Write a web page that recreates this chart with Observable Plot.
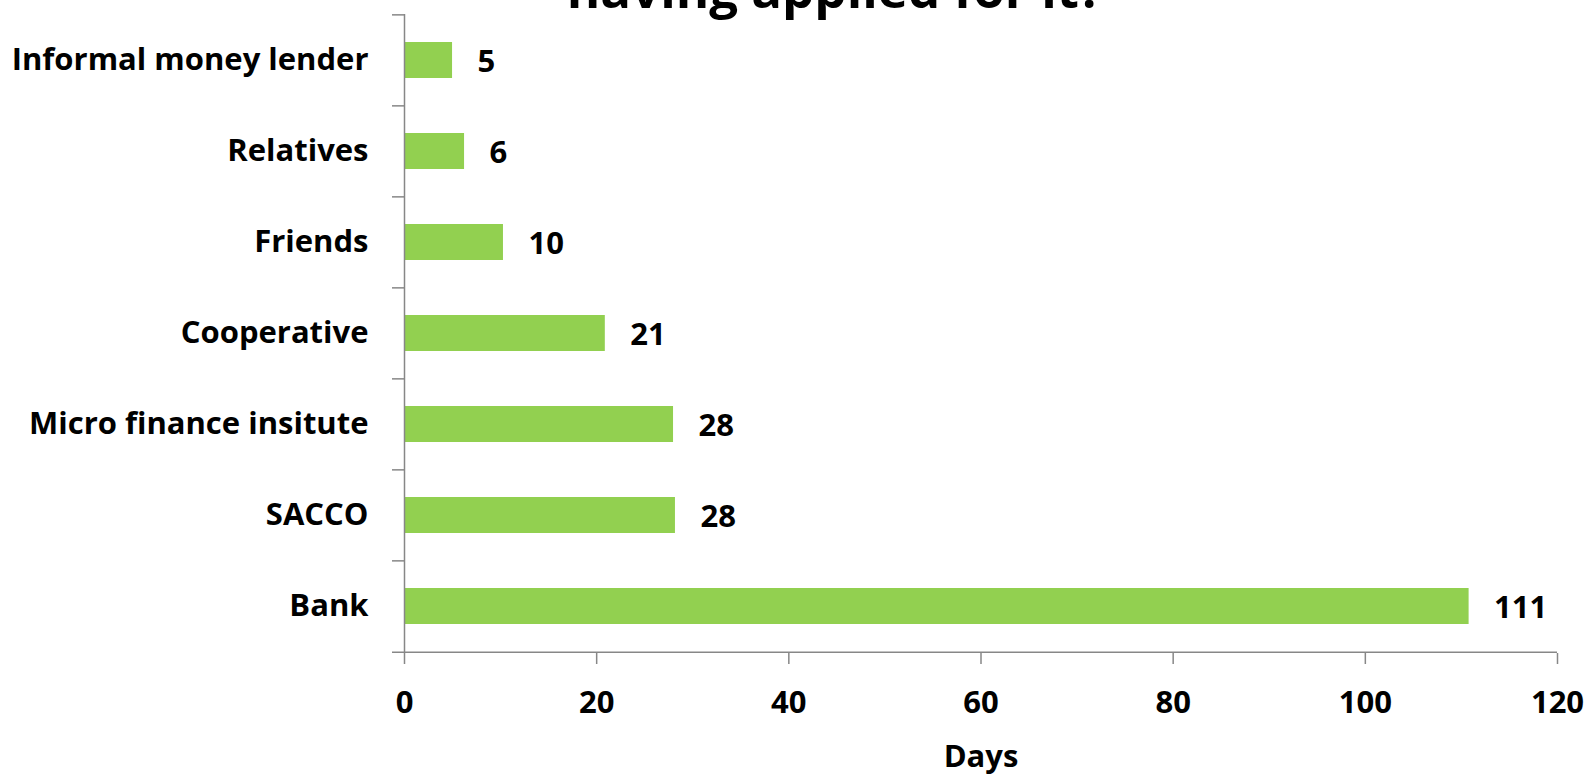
<!DOCTYPE html>
<html>
<head>
<meta charset="utf-8">
<script src="https://cdn.jsdelivr.net/npm/d3@7"></script>
<script src="https://cdn.jsdelivr.net/npm/@observablehq/plot@0.6"></script>
<style>
  html, body { margin: 0; padding: 0; background: #fff; overflow: hidden; }
  #wrap { position: relative; width: 1591px; height: 774px; }
  #title { position: absolute; top: -37px; left: 835px; transform: translateX(-50%);
    font-family: "Open Sans", sans-serif; font-weight: bold; font-size: 51px; line-height: 51px;
    white-space: nowrap; color: #000; }
  #chart { position: absolute; top: 0; left: 0; }
</style>
</head>
<body>
<div id="wrap">
  <div id="chart"></div>
  <div id="title">having applied for it?</div>
</div>
<script>
const categories = ["Informal money lender", "Relatives", "Friends", "Cooperative", "Micro finance insitute", "SACCO", "Bank"];
const days = [5.0, 6.25, 10.3, 20.9, 28.0, 28.2, 110.8];
const valueLabels = ["5", "6", "10", "21", "28", "28", "111"];
const xTicks = [0, 20, 40, 60, 80, 100, 120];

const data = categories.map((c, i) => ({category: c, days: days[i], label: valueLabels[i]}));

const W = 1591, H = 774, mT = 14, mB = 121, mL = 404, mR = 34;
const step = (H - mT - mB) / categories.length;
const gray = "#878787";

const chart = Plot.plot({
  width: W,
  height: H,
  marginTop: mT,
  marginBottom: mB,
  marginLeft: mL,
  marginRight: mR,
  style: {fontFamily: "Open Sans", fontSize: "31px", fontWeight: "bold", color: "#000", background: "#fff"},
  x: {domain: [0, 120]},
  y: {domain: categories, paddingInner: 0.6, paddingOuter: 0.3},
  marks: [
    Plot.barX(data, {x: "days", y: "category", fill: "#92D050"}),
    Plot.text(data, {x: "days", y: "category", text: "label", textAnchor: "start", dx: 25, dy: 2, fill: "#000"}),
    Plot.axisY({tickSize: 0, tickPadding: 36, label: null}),
    Plot.axisY({tickSize: 12, text: null, dy: -step / 2, stroke: gray, strokeWidth: 1.5, label: null}),
    Plot.axisX({ticks: xTicks, tickSize: 11, tickPadding: 26, stroke: gray, strokeWidth: 1.5,
      label: "Days", labelAnchor: "center", labelArrow: false, labelOffset: 113}),
    Plot.ruleX([0], {stroke: gray, strokeWidth: 1.5}),
    Plot.ruleY(["Bank"], {dy: step / 2, insetLeft: -12, stroke: gray, strokeWidth: 1.5})
  ]
});
document.getElementById("chart").appendChild(chart);
</script>
</body>
</html>
